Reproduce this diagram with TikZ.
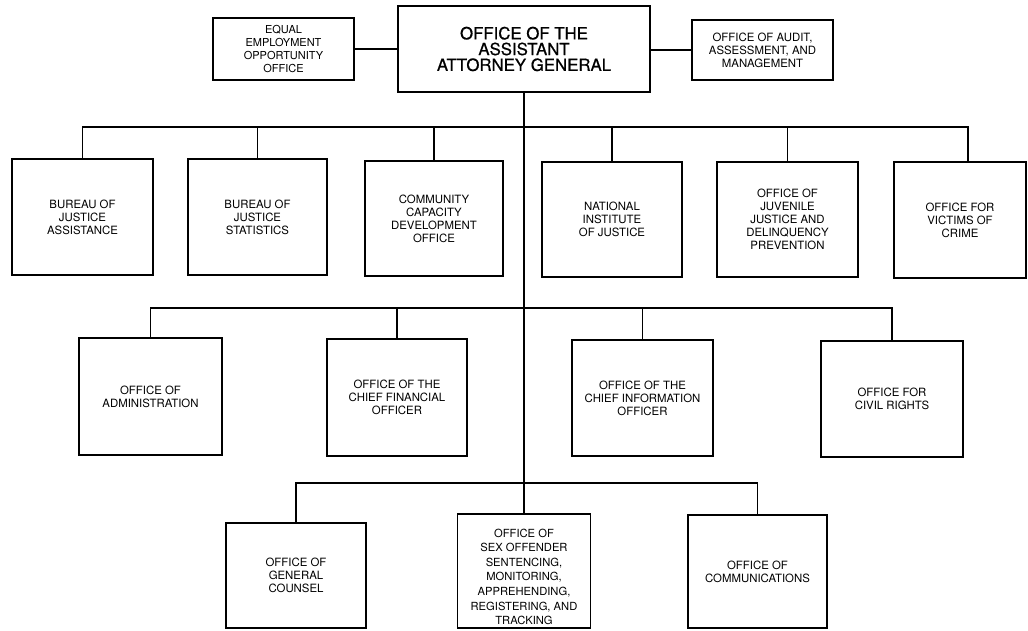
\documentclass[tikz,border=0pt]{standalone}
\usepackage{fontspec}
\setmainfont{TeX Gyre Heros}
\newfontfamily\headfont[FakeBold=0.7]{TeX Gyre Heros}
\begin{document}
\begin{tikzpicture}[x=1pt,y=-1pt,
  box/.style={draw, line width=1.6pt, inner sep=0pt, align=center,
    font=\fontsize{11.4}{12.9}\selectfont},
  headbox/.style={box, line width=1.9pt, font=\headfont\fontsize{16.8}{15.8}\selectfont},
  conn/.style={line width=1.7pt}]
\useasboundingbox (0,0) rectangle (1028,630);

% top row
\node[headbox, minimum width=252pt, minimum height=86pt] (main) at (524,49)
  {OFFICE OF THE\\ASSISTANT\\ATTORNEY GENERAL};
\node[box, minimum width=141pt, minimum height=62pt,
  font=\fontsize{11}{12.8}\selectfont] (eeo) at (283.5,49)
  {EQUAL\\EMPLOYMENT\\OPPORTUNITY\\OFFICE};
\node[box, minimum width=141pt, minimum height=60pt] (audit) at (762.5,50)
  {OFFICE OF AUDIT,\\ASSESSMENT, AND\\MANAGEMENT};

% first row of bureaus
\node[box, minimum width=141pt, minimum height=116pt] (bja) at (82.5,217)
  {BUREAU OF\\JUSTICE\\ASSISTANCE};
\node[box, minimum width=139pt, minimum height=116pt] (bjs) at (257.5,217)
  {BUREAU OF\\JUSTICE\\STATISTICS};
\node[box, minimum width=138pt, minimum height=115pt] (ccdo) at (434,218.5)
  {COMMUNITY\\CAPACITY\\DEVELOPMENT\\OFFICE};
\node[box, minimum width=140pt, minimum height=115pt] (nij) at (612,219.5)
  {NATIONAL\\INSTITUTE\\OF JUSTICE};
\node[box, minimum width=141pt, minimum height=115pt] (ojjdp) at (787.5,219.5)
  {OFFICE OF\\JUVENILE\\JUSTICE AND\\DELINQUENCY\\PREVENTION};
\node[box, minimum width=132pt, minimum height=116pt] (ovc) at (960,220)
  {OFFICE FOR\\VICTIMS OF\\CRIME};

% second row
\node[box, minimum width=143pt, minimum height=117pt] (admin) at (150.5,396.5)
  {OFFICE OF\\ADMINISTRATION};
\node[box, minimum width=140pt, minimum height=117pt] (cfo) at (397,397.5)
  {OFFICE OF THE\\CHIEF FINANCIAL\\OFFICER};
\node[box, minimum width=141pt, minimum height=116pt] (cio) at (642.5,398)
  {OFFICE OF THE\\CHIEF INFORMATION\\OFFICER};
\node[box, minimum width=142pt, minimum height=116pt] (ocr) at (892,399)
  {OFFICE FOR\\CIVIL RIGHTS};

% third row
\node[box, minimum width=140pt, minimum height=105pt] (gc) at (296,575.5)
  {OFFICE OF\\GENERAL\\COUNSEL};
\node[box, minimum width=133pt, minimum height=114pt,
  font=\fontsize{11.2}{14.6}\selectfont] (sorna) at (524,571)
  {\rule{0pt}{20pt}OFFICE OF\\SEX OFFENDER\\SENTENCING,\\MONITORING,\\APPREHENDING,\\REGISTERING, AND\\TRACKING};
\node[box, minimum width=139pt, minimum height=113pt] (comm) at (757.5,571.5)
  {OFFICE OF\\COMMUNICATIONS};

% staff offices
\draw[conn] (eeo.east) -- (main.west);
\draw[conn] (audit.west) -- (audit.west -| main.east);

% trunk
\draw[conn] (main.south) -- (sorna.north);

% bus 1
\coordinate (bus1) at (0,127);
\draw[conn] (bja.north) -- (bja.north |- bus1) -- ([xshift=8pt]ovc.north |- bus1) -- ([xshift=8pt]ovc.north);
\foreach \n in {bjs,ccdo,nij,ojjdp}
  \draw[conn] (\n.north) -- (\n.north |- bus1);

% bus 2
\coordinate (bus2) at (0,308);
\draw[conn] (admin.north) -- (admin.north |- bus2) -- (ocr.north |- bus2) -- (ocr.north);
\foreach \n in {cfo,cio}
  \draw[conn] (\n.north) -- (\n.north |- bus2);

% bus 3
\coordinate (bus3) at (0,483);
\draw[conn] (gc.north) -- (gc.north |- bus3) -- (comm.north |- bus3) -- (comm.north);
\end{tikzpicture}
\end{document}
